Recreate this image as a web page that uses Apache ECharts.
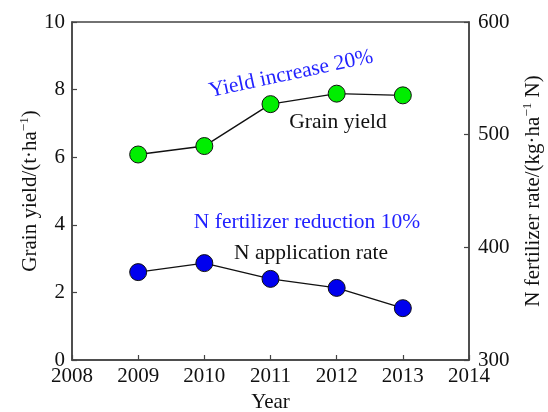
<!DOCTYPE html>
<html><head><meta charset="utf-8">
<script src="https://cdn.jsdelivr.net/npm/echarts@6/dist/echarts.min.js"></script>
<style>html,body{margin:0;padding:0;background:#fff}#c{width:548px;height:412px}</style>
</head><body><div id="c"></div>
<script>
const years = [2009, 2010, 2011, 2012, 2013];
const grainYield = [6.08, 6.33, 7.57, 7.88, 7.83];
const nRate = [378, 386, 372, 364, 346];
const xTicks = [2008, 2009, 2010, 2011, 2012, 2013, 2014];

const F = '"Liberation Serif", "Times New Roman", serif';
const FS = 21;
const richName = {
  n: {fontFamily: F, fontSize: FS, color: '#111', lineHeight: 24, verticalAlign: 'middle'},
  s: {fontFamily: F, fontSize: 13, color: '#111', lineHeight: 24, verticalAlign: 'top'}
};
const chart = echarts.init(document.getElementById('c'));
chart.setOption({
  animation: false,
  grid: {left: 72, right: 79, top: 22, bottom: 52, show: true, borderColor: '#444', borderWidth: 1.5, backgroundColor: 'transparent', outerBoundsMode: 'none', containLabel: false},
  xAxis: {
    type: 'value', min: 2008, max: 2014, interval: 1,
    name: 'Year', nameLocation: 'middle', nameGap: 32, nameMoveOverlap: false,
    nameTextStyle: {fontFamily: F, fontSize: FS, color: '#111'},
    axisLine: {lineStyle: {color: '#444', width: 1.5}},
    axisTick: {inside: true, length: 5, lineStyle: {color: '#444', width: 1.2}},
    axisLabel: {fontFamily: F, fontSize: FS, color: '#111', margin: 6, formatter: v => String(v)},
    splitLine: {show: false}
  },
  yAxis: [{
    type: 'value', min: 0, max: 10, interval: 2,
    name: '{n|Grain yield/(t·ha}{s|−1}{n|)}', nameLocation: 'middle', nameGap: 30, nameRotate: 90, nameMoveOverlap: false,
    nameTextStyle: {rich: richName},
    axisLine: {show: true, lineStyle: {color: '#444', width: 1.5}},
    axisTick: {inside: true, length: 5, lineStyle: {color: '#444', width: 1.2}},
    axisLabel: {fontFamily: F, fontSize: FS, color: '#111', margin: 7, verticalAlign: 'middle'},
    splitLine: {show: false}
  }, {
    type: 'value', min: 300, max: 600, interval: 100, position: 'right',
    name: '{n|N fertilizer rate/(kg·ha}{s|−1}{n| N)}', nameLocation: 'middle', nameGap: 52, nameRotate: 90, nameMoveOverlap: false,
    nameTextStyle: {rich: richName},
    axisLine: {show: true, lineStyle: {color: '#444', width: 1.5}},
    axisTick: {inside: true, length: 5, lineStyle: {color: '#444', width: 1.2}},
    axisLabel: {fontFamily: F, fontSize: FS, color: '#111', margin: 9},
    splitLine: {show: false}
  }],
  series: [{
    type: 'line', yAxisIndex: 0,
    data: years.map((y, i) => [y, grainYield[i]]),
    symbol: 'circle', symbolSize: 17,
    lineStyle: {color: '#111', width: 1.4},
    itemStyle: {color: '#00ee00', borderColor: '#111', borderWidth: 1}
  }, {
    type: 'line', yAxisIndex: 1,
    data: years.map((y, i) => [y, nRate[i]]),
    symbol: 'circle', symbolSize: 17,
    lineStyle: {color: '#111', width: 1.4},
    itemStyle: {color: '#0000ee', borderColor: '#111', borderWidth: 1}
  }],
  graphic: [
    {type: 'text', x: 291, y: 74, rotation: 12 * Math.PI / 180,
     style: {text: 'Yield increase 20%', fontFamily: F, fontSize: 21.5, fill: '#2222ff', align: 'center', verticalAlign: 'middle'}},
    {type: 'text', x: 338, y: 122,
     style: {text: 'Grain yield', fontFamily: F, fontSize: 21.5, fill: '#111', align: 'center', verticalAlign: 'middle'}},
    {type: 'text', x: 307, y: 222,
     style: {text: 'N fertilizer reduction 10%', fontFamily: F, fontSize: 21.5, fill: '#2222ff', align: 'center', verticalAlign: 'middle'}},
    {type: 'text', x: 311, y: 253,
     style: {text: 'N application rate', fontFamily: F, fontSize: 21.5, fill: '#111', align: 'center', verticalAlign: 'middle'}}
  ]
});
</script></body></html>
